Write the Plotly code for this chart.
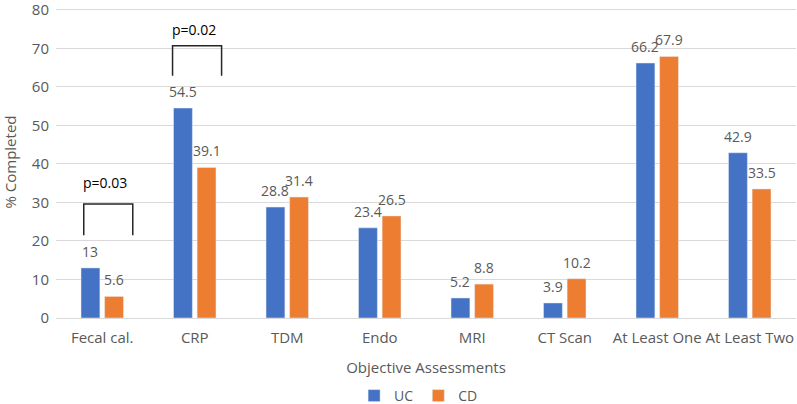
import plotly.graph_objects as go

categories = ["Fecal cal.", "CRP", "TDM", "Endo", "MRI", "CT Scan", "At Least One", "At Least Two"]
uc_values = [13, 54.5, 28.8, 23.4, 5.2, 3.9, 66.2, 42.9]
cd_values = [5.6, 39.1, 31.4, 26.5, 8.8, 10.2, 67.9, 33.5]
uc_labels = ["13", "54.5", "28.8", "23.4", "5.2", "3.9", "66.2", "42.9"]
cd_labels = ["5.6", "39.1", "31.4", "26.5", "8.8", "10.2", "67.9", "33.5"]
y_ticks = [0, 10, 20, 30, 40, 50, 60, 70, 80]

# significance brackets:
# category index, left offset, right offset, bottom, top, label, label x offset, label y
brackets = [
    (0, -0.20, 0.33, 21.5, 29.6, "p=0.03", 0.03, 35.3),
    (1, -0.24, 0.29, 62.9, 70.7, "p=0.02", -0.01, 75.0),
]

FONT = "Open Sans"
GREY = "#595959"
BARGAP = 0.49
GROUPGAP = 0.2

fig = go.Figure()
fig.add_trace(go.Bar(name="UC", x=categories, y=uc_values, marker_color="#4472C4"))
fig.add_trace(go.Bar(name="CD", x=categories, y=cd_values, marker_color="#ED7D31"))

# data labels above each bar, positioned from the grouped-bar geometry
slot = (1 - BARGAP) / 2
for s, (vals, labs) in enumerate([(uc_values, uc_labels), (cd_values, cd_labels)]):
    off = (s - 0.5) * slot
    for i, (v, t) in enumerate(zip(vals, labs)):
        fig.add_annotation(x=i + off, y=v, xref="x", yref="y", text=t, showarrow=False,
                           yanchor="bottom", yshift=5,
                           font=dict(family=FONT, size=14, color=GREY))

for idx, lo, hi, yb, yt, lab, lx, ly in brackets:
    fig.add_shape(type="path", xref="x", yref="y",
                  path=f"M {idx+lo},{yb} L {idx+lo},{yt} L {idx+hi},{yt} L {idx+hi},{yb}",
                  line=dict(color="#262626", width=1.5))
    fig.add_annotation(x=idx + lx, y=ly, xref="x", yref="y", text=lab,
                       showarrow=False, yanchor="middle",
                       font=dict(family=FONT, size=14, color="black"))

fig.update_layout(
    width=797, height=404,
    margin=dict(l=56, r=1, t=6, b=86, autoexpand=False),
    plot_bgcolor="white", paper_bgcolor="white",
    barmode="group", bargap=BARGAP, bargroupgap=GROUPGAP,
    font=dict(family=FONT, size=14, color=GREY),
    showlegend=True,
    legend=dict(orientation="h", x=0.49, xanchor="center", y=-0.25, yanchor="middle",
                font=dict(family=FONT, size=14, color=GREY), itemwidth=30,
                tracegroupgap=0),
)
fig.update_xaxes(showgrid=False, showline=True, linecolor="#D9D9D9", ticks="",
                 automargin=False, ticklabelstandoff=6,
                 tickfont=dict(family=FONT, size=15, color=GREY),
                 title=dict(text="Objective Assessments", standoff=16,
                            font=dict(family=FONT, size=15, color=GREY)))
fig.update_yaxes(range=[0, 81], tickvals=y_ticks, showgrid=True, gridcolor="#D9D9D9",
                 zeroline=False, showline=False, ticks="", automargin=False,
                 ticklabelstandoff=6, ticklabeloverflow="allow",
                 tickfont=dict(family=FONT, size=15, color=GREY),
                 title=dict(text="% Completed", standoff=14,
                            font=dict(family=FONT, size=15, color=GREY)))

fig.write_html("out.html", config={"displayModeBar": False},
               post_script="document.body.style.margin='0';document.body.style.padding='0';")
